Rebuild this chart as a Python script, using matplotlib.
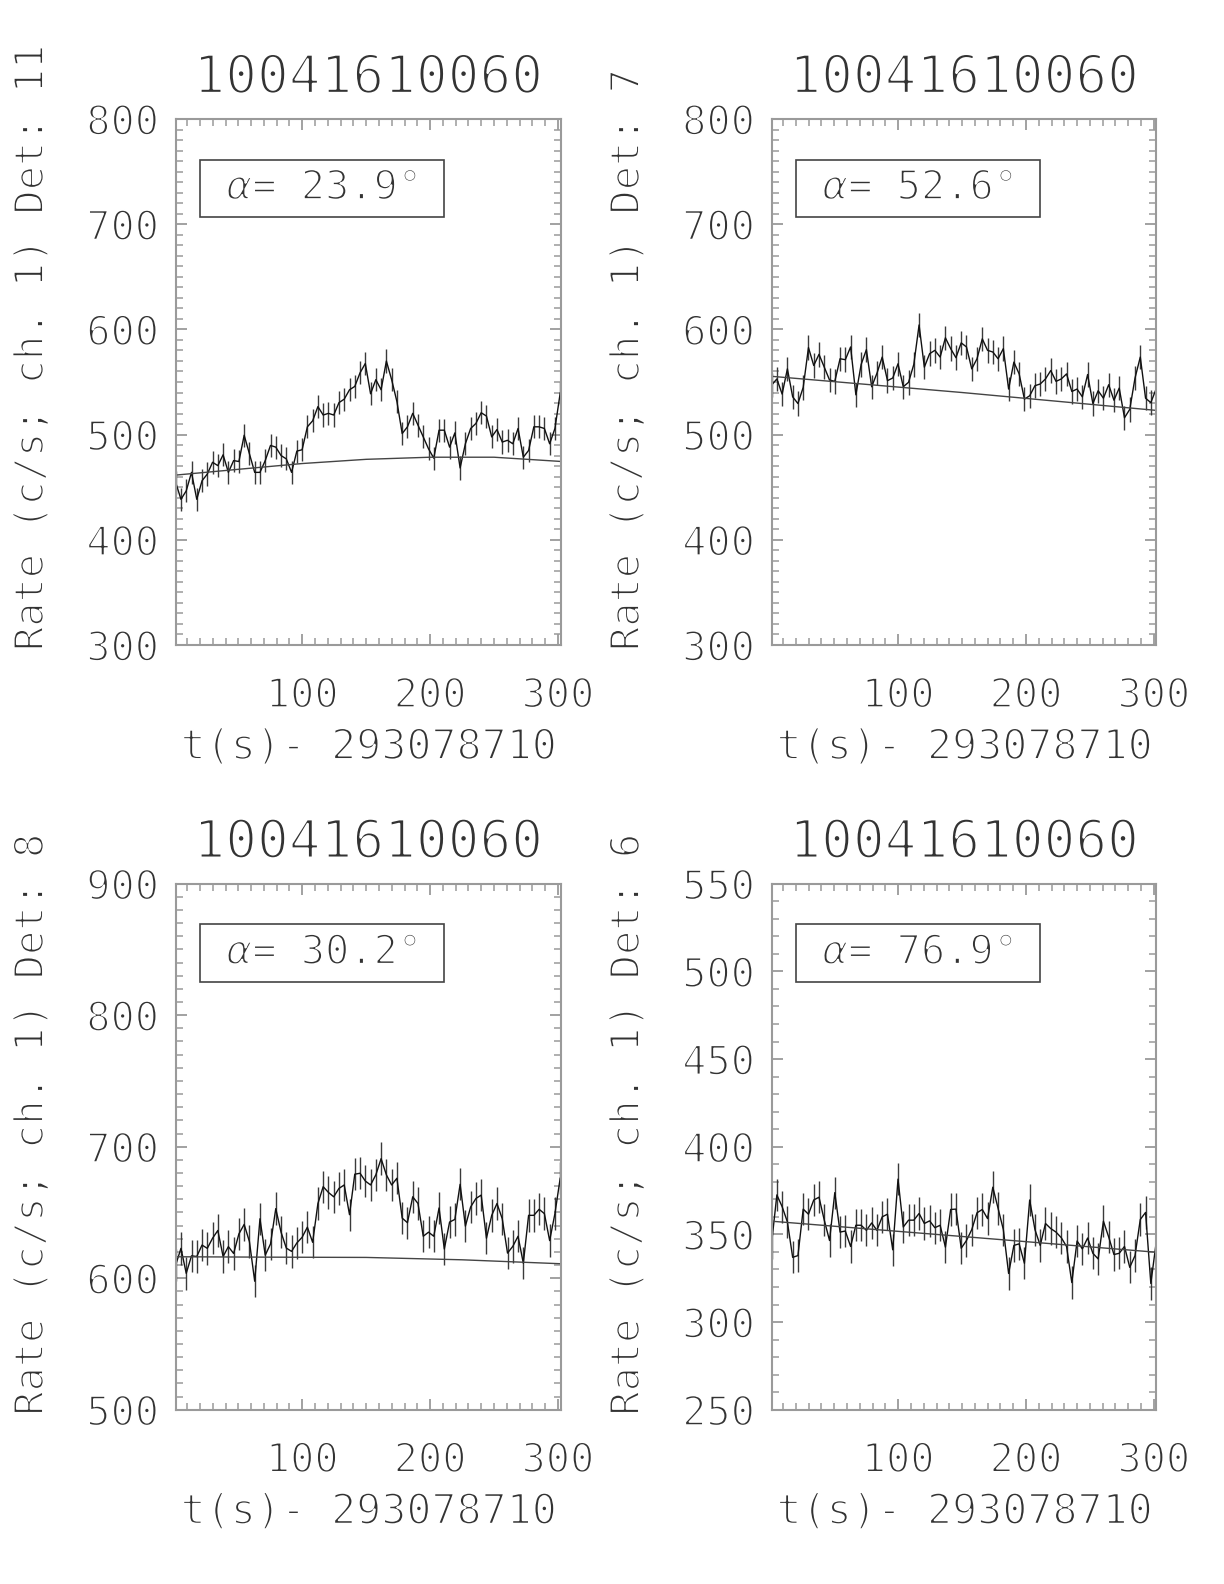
import numpy as np
import matplotlib
matplotlib.use('Agg')
import matplotlib.pyplot as plt
import matplotlib.patheffects as pe
from matplotlib.ticker import MultipleLocator
from matplotlib.patches import Rectangle

plt.rcParams['font.family'] = ['DejaVu Sans Mono', 'DejaVu Sans']
plt.rcParams['mathtext.fontset'] = 'dejavusans'

W, H = 1224, 1584

# time grid of the light curves (s from t0), 74 bins
t = np.arange(74) * 4.12 + 1.0

obsid = '10041610060'
t0 = '293078710'
dets = ['11', '7', '8', '6']
alphas = ['23.9', '52.6', '30.2', '76.9']
ylims = [(300, 800), (300, 800), (500, 900), (250, 550)]
ymajor = [100, 100, 100, 50]
errs = [11.0, 11.6, 12.3, 9.2]

rate_det11 = [454.5, 438.5, 446.5, 464.1, 438.5, 456.1, 462.5, 473.7, 470.5, 480.8,
              464.1, 475.3, 474.4, 499.4, 481.7, 464.1, 464.1, 475.3, 489.7, 488.1,
              480.1, 476.9, 464.1, 484.3, 485.6, 507.4, 513.1, 526.6, 518.6, 520.2,
              518.6, 530.4, 533.7, 542.6, 545.8, 558.7, 567.6, 538.8, 552.2, 542.6,
              569.9, 552.2, 531.4, 501.0, 507.4, 520.2, 509.0, 497.8, 486.5, 477.6,
              504.2, 504.2, 488.1, 501.6, 468.3, 491.3, 505.8, 510.6, 520.8, 517.6,
              497.8, 504.8, 492.9, 494.6, 491.3, 505.8, 478.5, 484.9, 507.4, 507.4,
              505.8, 491.3, 505.8, 539.4]

rate_det7 = [547.1, 552.9, 538.5, 562.5, 535.9, 529.5, 544.9, 582.7, 565.7, 576.3,
             564.1, 551.9, 550.6, 572.1, 571.2, 583.3, 537.8, 566.7, 580.8, 545.5,
             558.3, 573.7, 551.3, 553.8, 567.3, 545.5, 549.7, 566.7, 604.2, 564.1,
             576.9, 580.1, 573.7, 592.0, 581.7, 573.1, 587.2, 583.3, 562.5, 572.1,
             591.0, 580.1, 578.5, 572.1, 581.7, 543.3, 568.9, 557.7, 533.7, 536.9,
             546.5, 548.1, 552.9, 560.9, 550.6, 552.9, 557.7, 541.0, 543.3, 535.9,
             557.1, 529.5, 541.7, 534.6, 547.4, 532.7, 544.2, 516.0, 524.0, 553.8,
             573.7, 534.6, 530.4, 543.3]

rate_det8 = [610.1, 622.7, 603.7, 617.0, 616.5, 625.2, 622.7, 630.4, 636.3, 616.5,
             624.0, 618.8, 633.7, 640.9, 627.8, 597.7, 645.2, 617.5, 626.0, 652.9,
             635.0, 622.9, 620.4, 626.8, 631.1, 638.8, 627.3, 656.8, 669.6, 665.2,
             661.9, 668.3, 670.9, 648.3, 679.1, 679.8, 673.9, 670.9, 678.6, 690.9,
             678.6, 670.9, 676.0, 645.7, 642.2, 661.9, 656.8, 631.9, 635.0, 631.9,
             653.4, 622.2, 642.7, 644.7, 671.4, 639.6, 654.2, 660.6, 663.2, 630.4,
             647.8, 656.8, 645.2, 619.1, 624.2, 631.9, 611.4, 647.8, 647.8, 652.4,
             649.1, 628.6, 649.1, 676.0]

rate_det6 = [345.0, 372.5, 365.8, 357.1, 336.9, 337.9, 364.4, 361.5, 369.6, 371.2,
             358.1, 346.5, 373.8, 351.3, 351.9, 343.1, 355.2, 355.2, 352.3, 356.5,
             352.3, 360.0, 361.5, 341.2, 381.5, 354.2, 358.1, 358.1, 361.9, 356.2,
             357.7, 353.8, 355.2, 342.7, 364.2, 364.4, 342.1, 346.5, 352.7, 362.3,
             364.2, 359.0, 376.9, 364.8, 352.7, 327.7, 343.7, 344.6, 333.5, 369.6,
             352.7, 343.7, 356.2, 353.3, 351.3, 348.1, 343.1, 322.5, 346.2, 341.7,
             347.9, 339.2, 336.0, 357.5, 348.5, 338.5, 339.2, 343.1, 331.2, 337.9,
             358.5, 362.5, 322.0, 345.0]

# background models
bkg_t = [[1, 50, 100, 150, 200, 250, 302],
         [1, 150, 302],
         [1, 75, 150, 225, 302],
         [1, 150, 302]]
bkg_v = [[461.5, 467.0, 472.5, 476.5, 478.5, 478.5, 474.5],
         [555.4, 540.0, 523.0],
         [616.3, 616.0, 615.8, 614.0, 611.0],
         [357.5, 348.8, 339.8]]

rates = [rate_det11, rate_det7, rate_det8, rate_det6]

# thin the glyph strokes so the text looks closer to the plotter font
thin = [pe.Normal(), pe.Stroke(linewidth=1.4, foreground='white')]
thin_big = [pe.Normal(), pe.Stroke(linewidth=1.7, foreground='white')]

fig = plt.figure(figsize=(W / 100, H / 100), dpi=100)

col_left = [175.7, 771.6]
row_top = [119.0, 883.7]
aw, ah = 384.8, 526.0
ink = '#333333'
axcol = '#9a9a9a'
axes = []

for k in range(4):
    r, c = divmod(k, 2)
    left, top = col_left[c], row_top[r]
    ax = fig.add_axes([left / W, 1 - (top + ah) / H, aw / W, ah / H])
    axes.append(ax)

    ax.errorbar(t, rates[k], yerr=errs[k], fmt='none', ecolor='#3a3a3a',
                elinewidth=1.0, capsize=0)
    ax.plot(t, rates[k], color='#111111', lw=1.0)
    ax.plot(bkg_t[k], bkg_v[k], color='#444444', lw=1.0)

    ax.set_xlim(1, 302)
    ax.set_ylim(*ylims[k])
    ax.xaxis.set_major_locator(MultipleLocator(100))
    ax.xaxis.set_minor_locator(MultipleLocator(10))
    ax.yaxis.set_major_locator(MultipleLocator(ymajor[k]))
    ax.yaxis.set_minor_locator(MultipleLocator(10))
    ax.tick_params(which='both', direction='in', top=True, right=True,
                   colors=axcol, labelcolor=ink, labelsize=29)
    ax.tick_params(which='major', length=8, width=1.3)
    ax.tick_params(which='minor', length=5, width=1.1)
    ax.tick_params(axis='x', pad=22.5)
    ax.tick_params(axis='y', pad=12)
    for s in ax.spines.values():
        s.set_color(axcol)
        s.set_linewidth(1.5)

    # alpha box
    ax.add_patch(Rectangle((0.063, 1 - 0.1865), 0.635, 0.1095,
                           transform=ax.transAxes, fill=False,
                           edgecolor='#444444', lw=1.2))
    ax.text(0.38, 1 - 0.132, r'$\alpha$= ' + alphas[k] + '°',
            transform=ax.transAxes, ha='center', va='center',
            fontsize=29, color=ink, path_effects=thin)

    cx = (left + aw / 2) / W
    fig.text(cx, 1 - (top - 41) / H, obsid, ha='center', va='center',
             fontsize=38, color=ink, path_effects=thin_big)
    fig.text(cx, 1 - (top + ah + 102) / H, 't(s)- ' + t0, ha='center',
             va='center', fontsize=30, color=ink, path_effects=thin)
    ylab_x = 32 if c == 0 else 628
    fig.text(ylab_x / W, 1 - (top + ah + 6) / H,
             'Rate (c/s; ch. 1) Det: ' + dets[k], rotation=90,
             rotation_mode='anchor', ha='left', va='center',
             fontsize=29, color=ink, path_effects=thin)

fig.canvas.draw()
for ax in axes:
    for lab in ax.get_xticklabels() + ax.get_yticklabels():
        lab.set_path_effects(thin)

fig.savefig('out.png', dpi=100)
